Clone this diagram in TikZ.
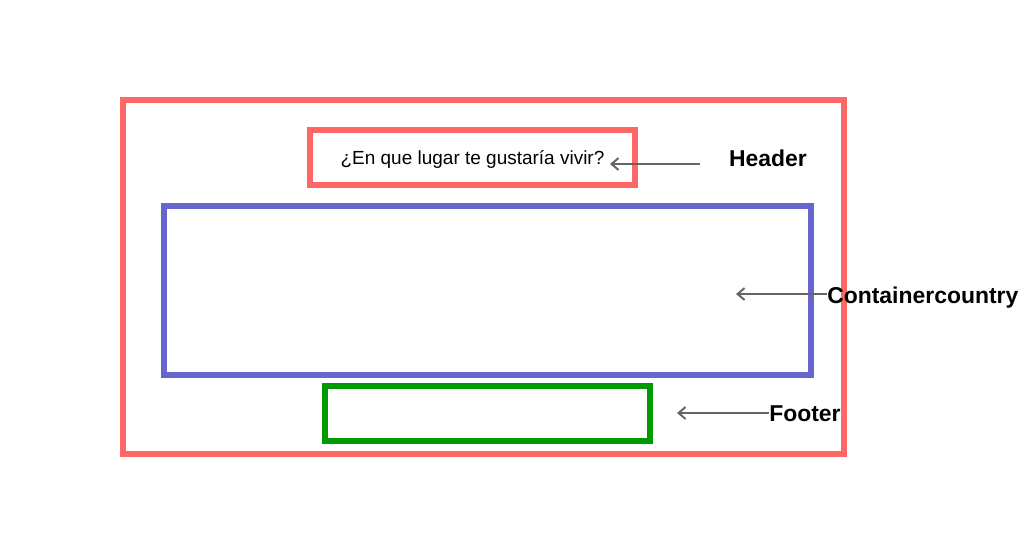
\documentclass[tikz,border=0pt]{standalone}
\usepackage{fontspec}
\setmainfont{Liberation Sans}
\usepackage{xcolor}
\usepackage{tikz}
\usetikzlibrary{arrows.meta}

\definecolor{boxred}{HTML}{FF6666}
\definecolor{boxblue}{HTML}{6666CC}
\definecolor{boxgreen}{HTML}{009900}
\definecolor{arrowgray}{HTML}{666666}

\begin{document}
\begin{tikzpicture}[x=0.025cm, y=-0.025cm,
  box/.style={draw, rectangle, line width=4.25pt, inner sep=0pt},
  tag/.style={inner sep=0pt, font=\fontsize{16.3}{19}\selectfont\bfseries},
  pointer/.style={draw=arrowgray, line width=1.4pt, -{Straight Barb[length=5pt,width=8.5pt]}}]
\useasboundingbox (0,0) rectangle (1031,553);
% Nodes
\node[box, draw=boxred, minimum width=18.025cm, minimum height=8.85cm] (frame) at (483.5,277) {};
\node[box, draw=boxred, minimum width=8.125cm, minimum height=1.375cm, text depth=0pt, font=\fontsize{13.5}{16}\selectfont] (header) at (472.5,157.5) {¿En que lugar te gustaría vivir?};
\node[box, draw=boxblue, minimum width=16.175cm, minimum height=4.225cm] (container) at (487.5,290.5) {};
\node[box, draw=boxgreen, minimum width=8.125cm, minimum height=1.375cm] (footer) at (487.5,413.5) {};

% Labels
\node[tag] (headerlbl) at (768,158) {Header};
\node[tag, anchor=west] (containerlbl) at (827,297.5) {Containercountry};
\node[tag, anchor=west] (footerlbl) at (769,414) {Footer};

% Arrows
\coordinate (headertail) at (700,164);
\coordinate (headertip) at (610,164);
\coordinate (containertip) at (736,294);
\coordinate (footertip) at (677,413);
\draw[pointer] (headertail) -- (headertip);
\draw[pointer] (containerlbl.west |- containertip) -- (containertip);
\draw[pointer] (footerlbl.west |- footertip) -- (footertip);
\end{tikzpicture}
\end{document}
